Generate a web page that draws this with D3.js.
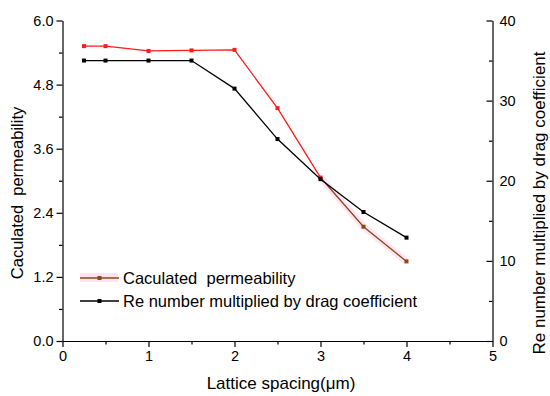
<!DOCTYPE html>
<html>
<head>
<meta charset="utf-8">
<script src="https://cdn.jsdelivr.net/npm/d3@7"></script>
<style>
  body { margin: 0; background: #fff; }
  svg text { font-family: "Liberation Sans", Arial, sans-serif; fill: #000; }
  .axis path, .axis line { stroke: #000; stroke-width: 1.2; }
</style>
</head>
<body>
<svg id="chart" width="550" height="396"></svg>
<script>
// lattice spacing (um)
var spacing = [0.25, 0.5, 1, 1.5, 2, 2.5, 3, 3.5, 4];
// left axis series
var permeability = [5.52, 5.52, 5.43, 5.44, 5.45, 4.36, 3.06, 2.14, 1.49];
// right axis series
var reDrag = [35, 35, 35, 35, 31.5, 25.2, 20.2, 16.1, 12.9];

var xTicks = [0, 1, 2, 3, 4, 5];
var yLeftTicks = [0, 1.2, 2.4, 3.6, 4.8, 6.0];
var yRightTicks = [0, 10, 20, 30, 40];

var svg = d3.select("#chart"),
    margin = {top: 20.5, right: 57.5, bottom: 55, left: 62.5},
    width = +svg.attr("width") - margin.left - margin.right,
    height = +svg.attr("height") - margin.top - margin.bottom,
    g = svg.append("g").attr("transform", "translate(" + margin.left + "," + margin.top + ")");

var x = d3.scaleLinear().domain([0, 5]).range([0, width]);
var yL = d3.scaleLinear().domain([0, 6]).range([height, 0]);
var yR = d3.scaleLinear().domain([0, 40]).range([height, 0]);

// minor ticks first
g.append("g").attr("class", "axis")
  .attr("transform", "translate(0," + height + ")")
  .call(d3.axisBottom(x).tickValues(d3.range(0.5, 5, 1)).tickSize(3.5).tickFormat(""))
  .call(function(s) { s.select(".domain").remove(); });
g.append("g").attr("class", "axis")
  .call(d3.axisLeft(yL).tickValues(d3.range(0.6, 6, 1.2)).tickSize(3.5).tickFormat(""))
  .call(function(s) { s.select(".domain").remove(); });
g.append("g").attr("class", "axis")
  .attr("transform", "translate(" + width + ",0)")
  .call(d3.axisLeft(yR).tickValues(d3.range(5, 40, 10)).tickSize(3.5).tickFormat(""))
  .call(function(s) { s.select(".domain").remove(); });

// major axes
var xAxis = g.append("g").attr("class", "axis")
  .attr("transform", "translate(0," + height + ")")
  .call(d3.axisBottom(x).tickValues(xTicks).tickSize(6).tickSizeOuter(0).tickPadding(4).tickFormat(d3.format("d")));
var yAxisL = g.append("g").attr("class", "axis")
  .call(d3.axisLeft(yL).tickValues(yLeftTicks).tickSize(6).tickSizeOuter(0).tickPadding(3).tickFormat(d3.format(".1f")));
var yAxisR = g.append("g").attr("class", "axis")
  .attr("transform", "translate(" + width + ",0)")
  .call(d3.axisLeft(yR).tickValues(yRightTicks).tickSize(6).tickSizeOuter(0).tickFormat(d3.format("d")));
yAxisR.selectAll("text").attr("x", 7).attr("text-anchor", "start");

svg.selectAll(".axis text").attr("font-size", 14.5).attr("font-family", "Liberation Sans, Arial, sans-serif");

// axis titles
svg.append("text")
  .attr("x", 281)
  .attr("y", 389)
  .attr("text-anchor", "middle")
  .attr("font-size", 17)
  .text("Lattice spacing(\u03bcm)");

svg.append("text")
  .attr("transform", "translate(23,193) rotate(-90)")
  .attr("text-anchor", "middle")
  .attr("font-size", 16.5)
  .text("Caculated\u00a0 permeability");

svg.append("text")
  .attr("transform", "translate(545,203) rotate(-90)")
  .attr("text-anchor", "middle")
  .attr("font-size", 17)
  .text("Re number multiplied by drag coefficient");

var red = "#ff1a1a", brown = "#8b4a14", black = "#000";

// permeability series (red, turns brown after 3 um)
var pts = spacing.map(function(s, i) { return {x: s, y: permeability[i]}; });
var lineL = d3.line().x(function(d) { return x(d.x); }).y(function(d) { return yL(d.y); });
var split = spacing.indexOf(3);
g.append("path").datum(pts.slice(0, split + 1))
  .attr("d", lineL).attr("fill", "none").attr("stroke", red).attr("stroke-width", 1.3);
g.append("path").datum(pts.slice(split))
  .attr("d", lineL).attr("fill", "none").attr("stroke", "#ffd8ee").attr("stroke-width", 7).attr("opacity", 0.7);
g.append("path").datum(pts.slice(split))
  .attr("d", lineL).attr("fill", "none").attr("stroke", brown).attr("stroke-width", 1.3);
g.selectAll(".ptL").data(pts).enter().append("rect")
  .attr("x", function(d) { return x(d.x) - 2; })
  .attr("y", function(d) { return yL(d.y) - 2; })
  .attr("width", 4).attr("height", 4)
  .attr("fill", function(d) { return d.x > 3 ? brown : red; });

// Re * drag series (black)
var ptsR = spacing.map(function(s, i) { return {x: s, y: reDrag[i]}; });
var lineR = d3.line().x(function(d) { return x(d.x); }).y(function(d) { return yR(d.y); });
g.append("path").datum(ptsR)
  .attr("d", lineR).attr("fill", "none").attr("stroke", black).attr("stroke-width", 1.3);
g.selectAll(".ptR").data(ptsR).enter().append("rect")
  .attr("x", function(d) { return x(d.x) - 2; })
  .attr("y", function(d) { return yR(d.y) - 2; })
  .attr("width", 4).attr("height", 4)
  .attr("fill", black);

// legend
var legend = [
  {label: "Caculated\u00a0 permeability", color: brown, glow: true},
  {label: "Re number multiplied by drag coefficient", color: black, glow: false}
];
var lg = svg.selectAll(".legend").data(legend).enter().append("g")
  .attr("class", "legend")
  .attr("transform", function(d, i) { return "translate(80," + (278 + i * 23) + ")"; });
lg.filter(function(d) { return d.glow; }).append("rect")
  .attr("x", 0).attr("y", -5).attr("width", 38).attr("height", 9).attr("fill", "#ffe3f2");
lg.append("line").attr("x1", 0).attr("x2", 39).attr("y1", 0).attr("y2", 0)
  .attr("stroke", function(d) { return d.color; }).attr("stroke-width", 1.3);
lg.append("rect").attr("x", 17.5).attr("y", -2).attr("width", 4).attr("height", 4)
  .attr("fill", function(d) { return d.color; });
lg.append("text").attr("x", 43).attr("y", 5.5).attr("font-size", 16.5)
  .text(function(d) { return d.label; });
</script>
</body>
</html>
